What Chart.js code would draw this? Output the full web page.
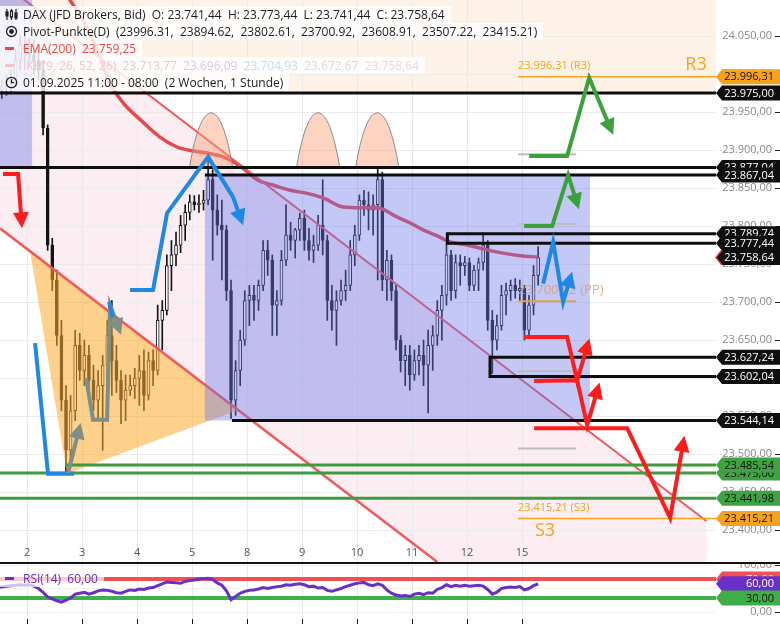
<!DOCTYPE html>
<html>
<head>
<meta charset="utf-8">
<script src="https://cdn.jsdelivr.net/npm/chart.js@4.4.1/dist/chart.umd.min.js"></script>
<style>
  body { margin: 0; width: 780px; height: 625px; overflow: hidden; position: relative; background: #fff; font-family: "Open Sans", sans-serif; }
  canvas { position: absolute; left: 0; }
  #main { top: 0; }
  #rsi { top: 562px; }
  .lg { position: absolute; left: 0; height: 17px; line-height: 17px; padding: 0 6px 0 23px; background: rgba(255,255,255,0.82);
        font: 12px "Open Sans", sans-serif; color: #1c1c1c; white-space: pre; }
  .lg svg, .lg .dash { position: absolute; left: 5px; }
  .lg svg { top: 2px; }
  .dash { top: 7px; width: 9px; height: 3px; }
</style>
</head>
<body>
<canvas id="main" width="780" height="562"></canvas>
<canvas id="rsi" width="780" height="63"></canvas>

<div class="lg" style="top:6px"><svg width="13" height="13" viewBox="0 0 13 13"><g stroke="#222" stroke-width="1.2" fill="none"><path d="M2 1v11M6.5 1v11M11 1v11"/><rect x="1" y="4" width="2" height="4" fill="#222"/><rect x="5.5" y="3" width="2" height="6" fill="#fff"/><rect x="10" y="5" width="2" height="5" fill="#222"/></g></svg>DAX (JFD Brokers, Bid)  O: 23.741,44  H: 23.773,44  L: 23.741,44  C: 23.758,64</div>
<div class="lg" style="top:23px"><svg width="13" height="13" viewBox="0 0 13 13"><circle cx="6.5" cy="6.5" r="5" stroke="#222" stroke-width="1.3" fill="none"/><circle cx="6.5" cy="6.5" r="2.4" fill="#222"/></svg>Pivot-Punkte(D)  (23996.31,  23894.62,  23802.61,  23700.92,  23608.91,  23507.22,  23415.21)</div>
<div class="lg" style="top:40px;color:#f04545"><span class="dash" style="background:#f04545"></span>EMA(200)  23.759,25</div>
<div class="lg" style="top:57px;color:#f6c3cb"><span class="dash" style="background:#f6c3cb"></span>IKH(9, 26, 52, 26)  23.713,77  <span style="color:#d6c8f2">23.696,09</span>  <span style="color:#b9e3ec">23.704,93</span>  <span style="color:#dadada">23.672,67</span>  <span style="color:#efd3dd">23.758,64</span></div>
<div class="lg" style="top:74px"><svg width="13" height="13" viewBox="0 0 13 13"><circle cx="6.5" cy="6.5" r="5.2" stroke="#222" stroke-width="1.3" fill="none"/><path d="M6.5 3.2v3.5h2.6" stroke="#222" stroke-width="1.3" fill="none"/></svg>01.09.2025 11:00 - 08:00  (2 Wochen, 1 Stunde)</div>
<div class="lg" style="top:571px;color:#6a2fc8;height:16px;line-height:16px;background:rgba(255,255,255,0.7)"><span class="dash" style="background:#6a2fc8;top:6px"></span>RSI(14)  60,00</div>

<script>
// ---- data: 2-hour bars from 01.09.2025 11:00 to 15.09.2025 08:00 (bar index = x value)
const opens = [
  23986, 23979, 23984, 23990, 23995, 24018, 24038, 24032, 24025, 24018,
  24005, 23929, 23775, 23729, 23656, 23571, 23505, 23557, 23643, 23610,
  23630, 23597, 23571, 23590, 23617, 23656, 23623, 23597, 23571, 23584,
  23590, 23600, 23610, 23577, 23623, 23610, 23676, 23689, 23748, 23762,
  23775, 23801, 23818, 23832, 23828, 23830, 23834, 23861, 23821, 23801,
  23795, 23715, 23571, 23610, 23650, 23702, 23709, 23702, 23722, 23768,
  23755, 23696, 23702, 23755, 23788, 23781, 23795, 23810, 23781, 23768,
  23775, 23801, 23781, 23702, 23689, 23702, 23715, 23722, 23762, 23788,
  23834, 23828, 23821, 23828, 23861, 23729, 23755, 23715, 23650, 23623,
  23630, 23604, 23623, 23630, 23617, 23643, 23656, 23689, 23709, 23762,
  23715, 23752, 23748, 23752, 23722, 23742, 23752, 23775, 23676, 23650,
  23669, 23709, 23715, 23722, 23715, 23718, 23663, 23696, 23735
];
const highs = [
  23995, 23992, 23999, 24005, 24032, 24051, 24054, 24047, 24045, 24038,
  24018, 23933, 23784, 23742, 23676, 23590, 23577, 23663, 23659, 23650,
  23643, 23617, 23610, 23630, 23676, 23702, 23643, 23610, 23604, 23604,
  23613, 23630, 23637, 23634, 23637, 23696, 23702, 23762, 23781, 23792,
  23814, 23828, 23841, 23840, 23841, 23847, 23887, 23874, 23841, 23834,
  23801, 23729, 23623, 23663, 23715, 23722, 23722, 23729, 23781, 23781,
  23762, 23715, 23768, 23828, 23805, 23797, 23817, 23821, 23797, 23788,
  23814, 23861, 23788, 23722, 23715, 23729, 23742, 23781, 23801, 23841,
  23847, 23845, 23841, 23878, 23871, 23768, 23762, 23722, 23656, 23643,
  23643, 23637, 23643, 23650, 23663, 23669, 23702, 23722, 23777, 23768,
  23762, 23762, 23760, 23758, 23748, 23758, 23791, 23781, 23689, 23683,
  23722, 23725, 23729, 23731, 23729, 23722, 23709, 23748, 23773
];
const lows = [
  23970, 23968, 23972, 23976, 23986, 24005, 24018, 24012, 23999, 23992,
  23920, 23768, 23715, 23643, 23557, 23475, 23485, 23544, 23597, 23590,
  23581, 23557, 23547, 23505, 23557, 23577, 23581, 23540, 23544, 23577,
  23573, 23564, 23557, 23571, 23590, 23604, 23637, 23683, 23715, 23748,
  23765, 23781, 23808, 23821, 23818, 23821, 23828, 23755, 23788, 23729,
  23702, 23547, 23551, 23590, 23643, 23669, 23676, 23689, 23715, 23735,
  23656, 23656, 23696, 23748, 23768, 23758, 23781, 23768, 23755, 23752,
  23768, 23762, 23676, 23663, 23643, 23696, 23702, 23715, 23748, 23781,
  23814, 23795, 23788, 23729, 23715, 23702, 23702, 23637, 23608, 23590,
  23584, 23597, 23604, 23590, 23554, 23610, 23643, 23650, 23696, 23702,
  23705, 23722, 23735, 23715, 23715, 23715, 23742, 23663, 23606, 23637,
  23663, 23683, 23702, 23705, 23702, 23650, 23652, 23683, 23722
];
const closes = [
  23979, 23984, 23990, 23995, 24018, 24038, 24032, 24025, 24018, 24005,
  23929, 23775, 23729, 23656, 23571, 23505, 23557, 23643, 23610, 23630,
  23597, 23571, 23590, 23617, 23656, 23623, 23597, 23571, 23584, 23590,
  23600, 23610, 23577, 23623, 23610, 23676, 23689, 23748, 23762, 23775,
  23801, 23818, 23832, 23828, 23830, 23834, 23861, 23821, 23801, 23795,
  23715, 23571, 23610, 23650, 23702, 23709, 23702, 23722, 23768, 23755,
  23696, 23702, 23755, 23788, 23781, 23795, 23810, 23781, 23768, 23775,
  23801, 23781, 23702, 23689, 23702, 23715, 23722, 23762, 23788, 23834,
  23828, 23821, 23828, 23861, 23729, 23755, 23715, 23650, 23623, 23630,
  23604, 23623, 23630, 23617, 23643, 23656, 23689, 23709, 23762, 23715,
  23752, 23748, 23752, 23722, 23742, 23752, 23775, 23676, 23650, 23669,
  23709, 23715, 23722, 23715, 23718, 23663, 23696, 23735, 23758.64
];
const rsiValues = [
  53, 53, 55, 56, 57, 58, 57, 58, 55, 50,
  42, 32, 28, 24, 21, 25, 30, 38, 40, 42,
  38, 41, 45, 47, 46, 44, 41, 40, 44, 47,
  46, 49, 48, 51, 52, 56, 60, 64, 63, 62,
  61, 65, 67, 68, 70, 71, 72, 69, 62, 57,
  45, 26, 33, 40, 44, 46, 47, 49, 52, 50,
  52, 54, 55, 58, 57, 59, 60, 58, 54, 55,
  51, 52, 46, 44, 47, 50, 54, 57, 60, 62,
  63, 58, 56, 60, 57, 47, 40, 36, 34, 35,
  33, 38, 40, 37, 41, 40, 48, 52, 58, 54,
  57, 55, 57, 55, 56, 57, 55, 48, 38, 42,
  50, 52, 53, 52, 54, 47, 50, 56, 60
];
const emaIdx = [13.3, 15.9, 18.7, 21.8, 24.6, 27.9, 31.2, 35.5, 39.2, 42.5, 45.8, 49.3, 53, 56.7, 60.6,
  63.9, 67.6, 71.1, 75.5, 79.2, 82.9, 87.2, 90.1, 92.9, 96, 98.8, 102.5, 106, 109.7, 114.1, 118];
const emaVals = [24121, 24097, 24071, 24032, 23988, 23959, 23940, 23917, 23904, 23899, 23896, 23891, 23879, 23861, 23853,
  23847, 23843, 23837, 23825, 23824, 23824, 23812, 23804, 23795, 23787, 23779, 23775, 23770, 23765, 23761, 23759.25];

const dayTicks = [6.5, 18.5, 30.5, 42.5, 54.5, 66.5, 78.5, 90.5, 102.5, 114.5];
const dayLabels = ['2', '3', '4', '5', '8', '9', '10', '11', '12', '15'];
const priceTicks = [23400, 23450, 23500, 23550, 23600, 23650, 23700, 23750, 23800, 23850, 23900, 23950, 24000, 24050];
const rsiTicks = [0, 50, 100];
const rsiBands = [70, 30];

const pivotValues = [23996.31, 23894.62, 23802.61, 23700.92, 23608.91, 23507.22, 23415.21];
const pivotNames = ['R3', 'R2', 'R1', 'PP', 'S1', 'S2', 'S3'];

// horizontal levels: [price, start bar, kind]
const levels = [
  [23975.00, 0.6, 'k'], [23877.04, 0.6, 'k'], [23867.04, 45.3, 'k'],
  [23789.74, 98.2, 'k'], [23777.44, 98.2, 'k'], [23627.24, 107.5, 'k'],
  [23602.04, 107.5, 'k'], [23544.14, 51.2, 'k'],
  [23485.54, 14.8, 'g'], [23475.00, 0.6, 'g'], [23441.98, 0.6, 'g']
];
// price tags on the right axis: [price, kind] (drawn in this order)
const tagLevels = [
  [23996.31, 'o'], [23975.00, 'k'], [23877.04, 'k'], [23867.04, 'k'], [23789.74, 'k'], [23777.44, 'k'],
  [23758.64, 'c'], [23627.24, 'k'], [23602.04, 'k'], [23544.14, 'k'],
  [23475.00, 'g'], [23485.54, 'g'], [23441.98, 'g'], [23415.21, 'o']
];

// ---- drawings, in chart units (bar index, price)
const X_MIN = 0.6, X_MAX = 156.8;
const channelUpper = [[0.6, 24122], [154.7, 23412]];
const channelLower = [[0.6, 23797], [96, 23358]];
const triangle = [[7.16, 23767], [15.23, 23474], [52.54, 23558]];
const boxes = [[0.6, 7.6, 23877.04, 24110], [45.3, 129.3, 23544.14, 23867.04]];
const arches = [46.65, 70.0, 82.9];
const arrows = [
  { c: '#ff1c1c', head: true, p: [[1.27, 23868.5], [4.54, 23868.5], [5.41, 23797]] },
  { c: '#1e88e5', head: false, p: [[8.25, 23646], [11.08, 23474], [16.76, 23474]] },
  { c: '#7f8e86', head: true, p: [[15.45, 23475], [18.2, 23541]] },
  { c: '#7f8e86', head: true, p: [[19.38, 23600], [20.9, 23545], [23.96, 23545], [24.61, 23696], [27.0, 23657]] },
  { c: '#1e88e5', head: false, p: [[24.4, 23700], [25.2, 23680]] },
  { c: '#1e88e5', head: true, p: [[28.98, 23716], [33.99, 23716], [37.05, 23817], [46.0, 23891], [51.45, 23838], [53.63, 23801]] },
  { c: '#3ba23b', head: true, p: [[116.04, 23892], [124.33, 23892], [129.13, 23995], [134.37, 23920]] },
  { c: '#3ba23b', head: true, p: [[114.95, 23800], [121.06, 23800], [124.55, 23867], [126.9, 23822]] },
  { c: '#1e88e5', head: true, p: [[119.09, 23724], [121.27, 23779], [123.45, 23700], [125.4, 23740]] },
  { c: '#ff1c1c', head: true, p: [[114.95, 23654], [124.33, 23654], [126.51, 23597], [129.2, 23652]] },
  { c: '#ff1c1c', head: true, p: [[117.13, 23596], [126.51, 23597], [128.69, 23538], [131.4, 23594]] },
  { c: '#ff1c1c', head: true, p: [[117.13, 23534], [137.42, 23534], [146.8, 23416], [149.9, 23524]] }
];

const FONT = '"Open Sans", sans-serif';
function fmtDe(v) {
  const [a, b] = v.toFixed(2).split('.');
  return a.replace(/\B(?=(\d{3})+(?!\d))/g, '.') + ',' + b;
}
function pt(chart, d) {
  return [chart.scales.x.getPixelForValue(d[0]), chart.scales.y.getPixelForValue(d[1])];
}
function poly(ctx, pts) {
  ctx.beginPath();
  pts.forEach((p, k) => k ? ctx.lineTo(p[0], p[1]) : ctx.moveTo(p[0], p[1]));
}
function drawArrow(ctx, pts, color, head) {
  ctx.strokeStyle = color; ctx.fillStyle = color; ctx.lineWidth = 4;
  ctx.lineJoin = 'miter'; ctx.lineCap = 'butt';
  const line = pts.slice();
  if (head) {
    const e = pts[pts.length - 1], s = pts[pts.length - 2];
    const ang = Math.atan2(e[1] - s[1], e[0] - s[0]), L = 16, W = 8;
    const bx = e[0] - Math.cos(ang) * L, by = e[1] - Math.sin(ang) * L;
    line[line.length - 1] = [bx + Math.cos(ang) * 3, by + Math.sin(ang) * 3];
    poly(ctx, line); ctx.stroke();
    ctx.beginPath();
    ctx.moveTo(e[0], e[1]);
    ctx.lineTo(bx + Math.sin(ang) * W, by - Math.cos(ang) * W);
    ctx.lineTo(bx - Math.sin(ang) * W, by + Math.cos(ang) * W);
    ctx.closePath(); ctx.fill();
  } else {
    poly(ctx, line); ctx.stroke();
  }
}
function drawTag(ctx, left, y, text, bg, fg, edge) {
  const h = 15, tip = 6;
  ctx.beginPath();
  ctx.moveTo(left, y); ctx.lineTo(left + tip, y - h / 2); ctx.lineTo(780, y - h / 2);
  ctx.lineTo(780, y + h / 2); ctx.lineTo(left + tip, y + h / 2); ctx.closePath();
  ctx.fillStyle = bg; ctx.fill();
  if (edge) {
    ctx.strokeStyle = edge; ctx.lineWidth = 1.5;
    ctx.beginPath(); ctx.moveTo(left + tip, y - h / 2); ctx.lineTo(left, y); ctx.lineTo(left + tip, y + h / 2); ctx.stroke();
  }
  ctx.fillStyle = fg; ctx.font = '11px ' + FONT; ctx.textAlign = 'right'; ctx.textBaseline = 'middle';
  ctx.fillText(text, 774, y + 0.5);
}
function axisLabels(chart, values) {
  const { ctx, scales: { y } } = chart;
  ctx.font = '11px ' + FONT; ctx.textAlign = 'right'; ctx.textBaseline = 'middle';
  values.forEach(v => {
    const py = y.getPixelForValue(v);
    ctx.fillStyle = '#8a8a8a'; ctx.fillText(fmtDe(v), 772, py);
    ctx.fillStyle = '#222'; ctx.fillRect(775, Math.round(py), 5, 1);
  });
}

const tagStyle = { k: ['#0e0e0e', '#ffffff'], c: ['#0e0e0e', '#ffffff'], g: ['#3fa243', '#111111'], o: ['#f7a21b', '#111111'] };

const mainDraw = {
  id: 'mainDraw',
  beforeDraw(chart) {
    const { ctx, chartArea: a, scales: { x, y } } = chart;
    ctx.save();
    ctx.fillStyle = '#fff'; ctx.fillRect(0, 0, chart.width, chart.height);
    // light band above the 23975 line
    ctx.fillStyle = '#fdf2e5';
    ctx.fillRect(a.left, a.top, a.right - a.left, y.getPixelForValue(levels[0][0]) - a.top);
    // falling channel
    const u0 = pt(chart, channelUpper[0]), u1 = pt(chart, channelUpper[1]);
    const l0 = pt(chart, channelLower[0]), l1 = pt(chart, channelLower[1]);
    poly(ctx, [u0, u1, [u1[0], a.bottom], [l1[0], a.bottom], l0]); ctx.closePath();
    ctx.fillStyle = 'rgba(240,150,180,0.17)'; ctx.fill();
    // day grid
    ctx.strokeStyle = '#e9e9e9'; ctx.lineWidth = 1;
    dayTicks.forEach(d => {
      const px = Math.round(x.getPixelForValue(d)) + 0.5;
      ctx.beginPath(); ctx.moveTo(px, a.top); ctx.lineTo(px, a.bottom); ctx.stroke();
    });
    ctx.restore();
  },
  afterDatasetsDraw(chart) {
    const { ctx, chartArea: a, scales: { x, y } } = chart;
    ctx.save();
    // triangle
    poly(ctx, triangle.map(d => pt(chart, d))); ctx.closePath();
    ctx.fillStyle = 'rgba(251,170,46,0.55)'; ctx.fill();
    // channel lines
    ctx.strokeStyle = '#f05a5a';
    ctx.lineWidth = 2; poly(ctx, channelUpper.map(d => pt(chart, d))); ctx.stroke();
    ctx.lineWidth = 2.5; poly(ctx, channelLower.map(d => pt(chart, d))); ctx.stroke();
    // arches
    arches.forEach(c => {
      const cx = x.getPixelForValue(c), hw = x.getPixelForValue(c + 4.7) - cx;
      const base = y.getPixelForValue(23877.04), top = y.getPixelForValue(23949);
      const cy = base - (base - top) / 0.75;
      ctx.beginPath(); ctx.moveTo(cx - hw, base);
      ctx.bezierCurveTo(cx - hw * 0.45, cy, cx + hw * 0.45, cy, cx + hw, base);
      ctx.fillStyle = 'rgba(250,160,120,0.45)'; ctx.fill();
      ctx.strokeStyle = '#8c8c8c'; ctx.lineWidth = 1; ctx.stroke();
    });
    // boxes
    ctx.fillStyle = 'rgba(105,117,232,0.4)';
    boxes.forEach(b => {
      const x0 = x.getPixelForValue(b[0]), x1 = x.getPixelForValue(b[1]);
      const y0 = y.getPixelForValue(b[3]), y1 = y.getPixelForValue(b[2]);
      ctx.fillRect(x0, y0, x1 - x0, y1 - y0);
    });
    // level lines
    ctx.lineWidth = 3;
    levels.forEach(([p, s, k]) => {
      const py = y.getPixelForValue(p);
      ctx.strokeStyle = k === 'g' ? '#3c9c3c' : '#0e0e0e';
      ctx.beginPath(); ctx.moveTo(x.getPixelForValue(s), py); ctx.lineTo(a.right, py); ctx.stroke();
    });
    ctx.strokeStyle = '#0e0e0e';
    [[3, 4], [5, 6]].forEach(([i, j]) => {
      const px = x.getPixelForValue(levels[i][1]);
      ctx.beginPath(); ctx.moveTo(px, y.getPixelForValue(levels[i][0]) - 1.5);
      ctx.lineTo(px, y.getPixelForValue(levels[j][0]) + 1.5); ctx.stroke();
    });
    // pivots
    const ps = x.getPixelForValue(113.6), pe = x.getPixelForValue(126.3);
    pivotValues.forEach((v, k) => {
      const py = y.getPixelForValue(v), name = pivotNames[k];
      const full = name === 'R3' || name === 'S3';
      ctx.strokeStyle = full ? '#f5a31a' : (name === 'PP' ? '#e2a54c' : '#bcbcc4');
      ctx.lineWidth = full ? 1.5 : 2;
      ctx.beginPath(); ctx.moveTo(ps, py); ctx.lineTo(full ? a.right : pe, py); ctx.stroke();
      ctx.textAlign = 'left'; ctx.textBaseline = 'middle';
      if (full) {
        ctx.fillStyle = '#f5a31a'; ctx.font = '11px ' + FONT;
        ctx.fillText(fmtDe(v) + ' (' + name + ')', ps, py - 11);
        ctx.font = '18px ' + FONT;
        if (name === 'R3') ctx.fillText(name, x.getPixelForValue(150.1), py - 12);
        else ctx.fillText(name, x.getPixelForValue(117.3), py + 12);
      } else if (name === 'PP') {
        ctx.fillStyle = 'rgba(240,150,70,0.78)'; ctx.font = '13px ' + FONT;
        ctx.fillText(fmtDe(v) + ' (' + name + ')', ps, py - 11);
      }
    });
    // hand drawn arrows
    arrows.forEach(ar => drawArrow(ctx, ar.p.map(d => pt(chart, d)), ar.c, ar.head));
    ctx.restore();
  },
  afterDraw(chart) {
    const { ctx, chartArea: a, scales: { x, y } } = chart;
    ctx.save();
    ctx.font = '11px ' + FONT; ctx.fillStyle = '#555'; ctx.textAlign = 'center'; ctx.textBaseline = 'middle';
    dayTicks.forEach((d, k) => ctx.fillText(dayLabels[k], x.getPixelForValue(d), 553));
    axisLabels(chart, priceTicks);
    tagLevels.forEach(([p, k]) => {
      drawTag(ctx, a.right, y.getPixelForValue(p), fmtDe(p), tagStyle[k][0], tagStyle[k][1], k === 'c' ? '#e83030' : null);
    });
    ctx.restore();
  }
};

new Chart(document.getElementById('main'), {
  type: 'bar',
  data: {
    datasets: [
      { type: 'line', label: 'EMA(200)', data: emaIdx.map((v, k) => ({ x: v, y: emaVals[k] })),
        borderColor: '#e5484d', borderWidth: 3.5, pointRadius: 0, cubicInterpolationMode: 'monotone', order: 0 },
      { type: 'bar', label: 'body', data: opens.map((o, i) => ({ x: i, y: [o, closes[i]] })),
        backgroundColor: opens.map((o, i) => closes[i] >= o ? '#ffffff' : '#141414'),
        borderColor: '#141414', borderWidth: 1, borderSkipped: false, barThickness: 3, grouped: false, order: 1 },
      { type: 'bar', label: 'wick', data: lows.map((l, i) => ({ x: i, y: [l, highs[i]] })),
        backgroundColor: '#141414', barThickness: 1, grouped: false, order: 2 }
    ]
  },
  options: {
    responsive: false, animation: false,
    layout: { padding: 0 },
    plugins: { legend: { display: false }, tooltip: { enabled: false } },
    scales: {
      x: { type: 'linear', min: X_MIN, max: X_MAX, display: false, offset: false },
      y: {
        position: 'right', min: 23358, max: 24097.4,
        afterFit: s => { s.width = 64; },
        afterBuildTicks: s => { s.ticks = priceTicks.map(v => ({ value: v })); },
        ticks: { display: false },
        grid: { color: '#ebebeb', drawTicks: false },
        border: { display: false }
      }
    }
  },
  plugins: [mainDraw]
});

const rsiDraw = {
  id: 'rsiDraw',
  beforeDatasetsDraw(chart) {
    const { ctx, chartArea: a, scales: { x, y } } = chart;
    ctx.save();
    ctx.strokeStyle = '#e9e9e9'; ctx.lineWidth = 1;
    dayTicks.forEach(d => {
      const px = Math.round(x.getPixelForValue(d)) + 0.5;
      ctx.beginPath(); ctx.moveTo(px, 0); ctx.lineTo(px, 56); ctx.stroke();
    });
    ctx.lineWidth = 4;
    rsiBands.forEach((b, k) => {
      const py = y.getPixelForValue(b);
      ctx.strokeStyle = k === 0 ? '#f25050' : '#3db14a';
      ctx.beginPath(); ctx.moveTo(a.left, py); ctx.lineTo(a.right, py); ctx.stroke();
    });
    ctx.restore();
  },
  afterDraw(chart) {
    const { ctx, chartArea: a, scales: { x, y } } = chart;
    ctx.save();
    axisLabels(chart, rsiTicks);
    drawTag(ctx, a.right, y.getPixelForValue(rsiBands[0]), fmtDe(rsiBands[0]), '#f25050', '#ffffff');
    const last = rsiValues[rsiValues.length - 1];
    drawTag(ctx, a.right, y.getPixelForValue(last), fmtDe(last), '#6a2fc8', '#ffffff');
    drawTag(ctx, a.right, y.getPixelForValue(rsiBands[1]), fmtDe(rsiBands[1]), '#3fae49', '#111111');
    ctx.fillStyle = '#111';
    ctx.fillRect(0, 0, 780, 2);
    dayTicks.forEach(d => ctx.fillRect(Math.round(x.getPixelForValue(d)), 57, 1, 5));
    ctx.restore();
  }
};

new Chart(document.getElementById('rsi'), {
  type: 'line',
  data: {
    datasets: [{ label: 'RSI(14)', data: rsiValues.map((v, i) => ({ x: i, y: v })),
      borderColor: '#6a2fc8', borderWidth: 3, pointRadius: 0, tension: 0 }]
  },
  options: {
    responsive: false, animation: false,
    layout: { padding: { top: 3, bottom: 13 } },
    plugins: { legend: { display: false }, tooltip: { enabled: false } },
    scales: {
      x: { type: 'linear', min: X_MIN, max: X_MAX, display: false },
      y: {
        position: 'right', min: 0, max: 100,
        afterFit: s => { s.width = 64; },
        afterBuildTicks: s => { s.ticks = rsiTicks.map(v => ({ value: v })); },
        ticks: { display: false },
        grid: { color: '#f0f0f0', drawTicks: false },
        border: { display: false }
      }
    }
  },
  plugins: [rsiDraw]
});
</script>
</body>
</html>
